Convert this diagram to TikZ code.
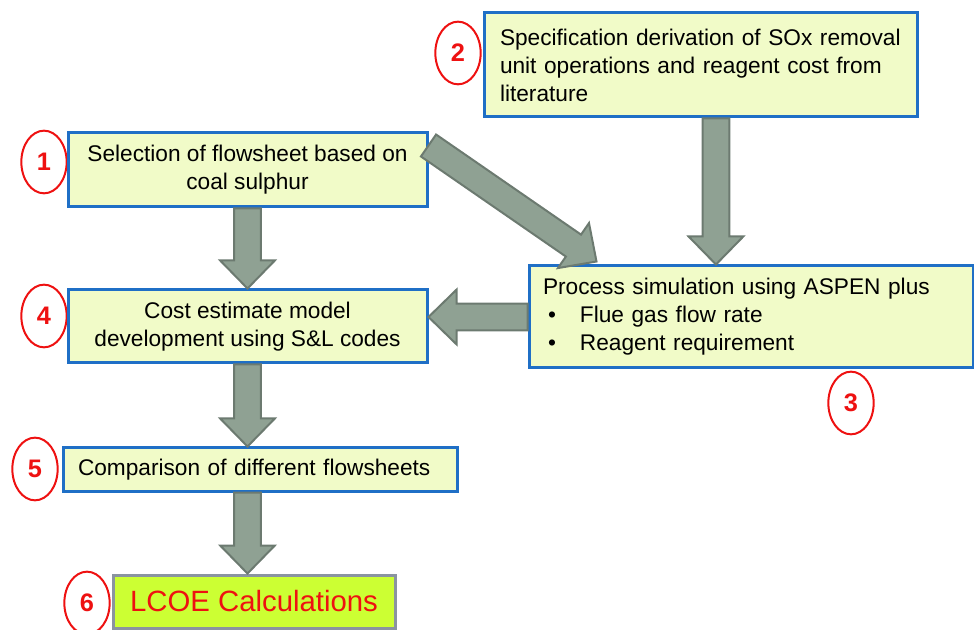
\documentclass[tikz,border=0pt]{standalone}
\usepackage{fontspec}
\setmainfont{Liberation Sans}
\usepackage{tikz}
\usetikzlibrary{calc,shapes.geometric}

\definecolor{boxfill}{HTML}{F1FBC8}
\definecolor{boxline}{HTML}{1F6FC6}
\definecolor{arrfill}{HTML}{8FA193}
\definecolor{arrline}{HTML}{6C7A70}
\definecolor{lcoefill}{HTML}{CCFF33}
\definecolor{lcoeline}{HTML}{8A94A0}
\definecolor{numred}{HTML}{EE1111}

% block arrow from #1 to #2 (tip at #2)
\newcommand{\blockarrow}[2]{%
  \coordinate (hb) at ($(#2)!21pt!(#1)$);
  \draw [flowarrow] ($(#1)!10pt!90:(#2)$) -- ($(hb)!10pt!90:(#2)$) -- ($(hb)!20.5pt!90:(#2)$) -- (#2)
    -- ($(hb)!20.5pt!-90:(#2)$) -- ($(hb)!10pt!-90:(#2)$) -- ($(#1)!10pt!-90:(#2)$) -- cycle ;
}

\begin{document}
\begin{tikzpicture}[x=0.75pt,y=0.75pt,yscale=-1,xscale=1,
    stepbox/.style={draw=boxline, line width=2.25pt, fill=boxfill, inner sep=0pt, font=\fontsize{17}{21}\selectfont},
    lcoebox/.style={draw=lcoeline, line width=2.25pt, fill=lcoefill, inner sep=0pt, text=numred, font=\fontsize{22}{26}\selectfont},
    numcircle/.style={ellipse, draw=numred, line width=1.5pt, fill=white, minimum width=34pt, minimum height=47pt, inner sep=0pt, text=numred, font=\fontsize{19}{19}\selectfont\bfseries},
    flowarrow/.style={draw=arrline, line width=1.5pt, fill=arrfill, line join=miter}]
    \useasboundingbox (0,0) rectangle (974,630);

    %Shape: Ellipse
    \draw (44,162) node [numcircle] (n1) {1};
    \draw (458,53) node [numcircle] (n2) {2};
    \draw (851,403) node [numcircle] (n3) {3};
    \draw (44,316) node [numcircle] (n4) {4};
    \draw (35,469) node [numcircle] (n5) {5};
    \draw (87,603) node [numcircle] (n6) {6};

    % Text Node
    \draw (247.5,170) node [stepbox, minimum width=269.25pt, minimum height=55.5pt, align=center] (box1)
        {Selection of flowsheet based on\\coal sulphur};
    % Text Node
    \draw (700.5,65) node [stepbox, minimum height=78pt, inner xsep=12pt, text width=300.75pt, align=left] (box2)
        {Specification derivation of SOx removal\\unit operations and reagent cost from\\literature};
    % Text Node
    \draw (751,317) node [stepbox, minimum height=76.5pt, inner xsep=10.5pt, text width=312pt, align=left] (box3)
        {Process simulation using ASPEN plus\\
         \makebox[27.75pt][l]{\hspace{3.75pt}\textbullet}Flue gas flow rate\\
         \makebox[27.75pt][l]{\hspace{3.75pt}\textbullet}Reagent requirement};
    % Text Node
    \draw (247.5,326.5) node [stepbox, minimum width=269.25pt, minimum height=54.75pt, align=center] (box4)
        {Cost estimate model\\development using S\&L codes};
    % Text Node
    \draw (260,469.5) node [stepbox, minimum height=32.25pt, inner xsep=11.25pt, text width=273pt, align=left] (box5)
        {Comparison of different flowsheets};
    % Text Node
    \draw (254,601.5) node [lcoebox, minimum width=211.5pt, minimum height=39.75pt] (box6)
        {LCOE Calculations};

    %Block Arrows
    \coordinate (d1) at ($(box1.north east)+(0,14)$);
    \coordinate (d3) at ($(box3.north west)+(69,-3)$);
    \coordinate (a2) at ([xshift=11.6pt]box2.south);
    \coordinate (a3) at (a2 |- box3.north);
    \coordinate (c5) at (box5.south -| box4.south);
    \coordinate (c6) at (box6.north -| box4.south);
    \coordinate (w4) at (box3.west -| box4.east);
    \coordinate (t5) at (box4.south |- box5.north);

    \blockarrow{box1.south}{box4.north}
    \blockarrow{d1}{d3}
    \blockarrow{a2}{a3}
    \blockarrow{box3.west}{w4}
    \blockarrow{box4.south}{t5}
    \blockarrow{c5}{c6}

\end{tikzpicture}
\end{document}
